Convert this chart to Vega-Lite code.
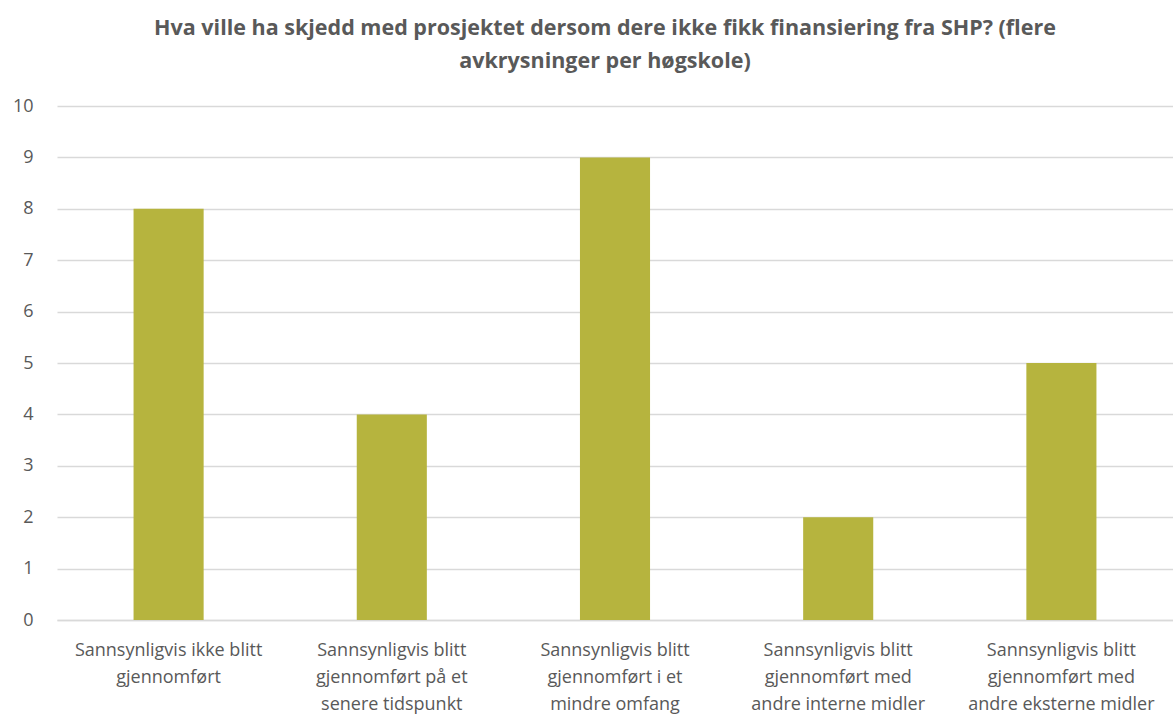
{
  "$schema": "https://vega.github.io/schema/vega-lite/v6.json",
  "autosize": {"type": "none"},
  "width": 1116,
  "height": 514,
  "padding": {"left": 57, "top": 106, "right": 0, "bottom": 98},
  "background": "white",
  "title": {
    "text": ["Hva ville ha skjedd med prosjektet dersom dere ikke fikk finansiering fra SHP? (flere", "avkrysninger per høgskole)"],
    "font": "Open Sans",
    "fontSize": 21.5,
    "fontWeight": "bold",
    "color": "#595959",
    "anchor": "middle",
    "frame": "group",
    "lineHeight": 33,
    "offset": 25,
    "dx": -10
  },
  "data": {
    "values": [
      {"kategori": "Sannsynligvis ikke blitt|gjennomført", "antall": 8, "rekke": 1},
      {"kategori": "Sannsynligvis blitt|gjennomført på et|senere tidspunkt", "antall": 4, "rekke": 2},
      {"kategori": "Sannsynligvis blitt|gjennomført i et|mindre omfang", "antall": 9, "rekke": 3},
      {"kategori": "Sannsynligvis blitt|gjennomført med|andre interne midler", "antall": 2, "rekke": 4},
      {"kategori": "Sannsynligvis blitt|gjennomført med|andre eksterne midler", "antall": 5, "rekke": 5}
    ]
  },
  "mark": {"type": "bar", "color": "#B6B43E"},
  "encoding": {
    "x": {
      "field": "kategori",
      "type": "nominal",
      "sort": {"field": "rekke"},
      "scale": {"paddingInner": 0.686, "paddingOuter": 0.343},
      "axis": {
        "title": null,
        "labelAngle": 0,
        "labelExpr": "split(datum.label, '|')",
        "labelFont": "Open Sans",
        "labelFontSize": 18,
        "labelColor": "#595959",
        "labelLineHeight": 27,
        "labelPadding": 21,
        "labelBaseline": "top",
        "labelLimit": 0,
        "labelOverlap": false,
        "ticks": false,
        "domain": true,
        "domainColor": "#D9D9D9",
        "domainWidth": 1.5
      }
    },
    "y": {
      "field": "antall",
      "type": "quantitative",
      "scale": {"domain": [0, 10]},
      "axis": {
        "title": null,
        "values": [0,1,2,3,4,5,6,7,8,9,10],
        "labelOverlap": false,
        "labelFont": "Open Sans",
        "labelFontSize": 18,
        "labelColor": "#595959",
        "labelPadding": 24,
        "ticks": false,
        "domain": false,
        "grid": true,
        "gridColor": "#D9D9D9",
        "gridWidth": 1.5
      }
    }
  },
  "config": {"view": {"stroke": null}}
}
